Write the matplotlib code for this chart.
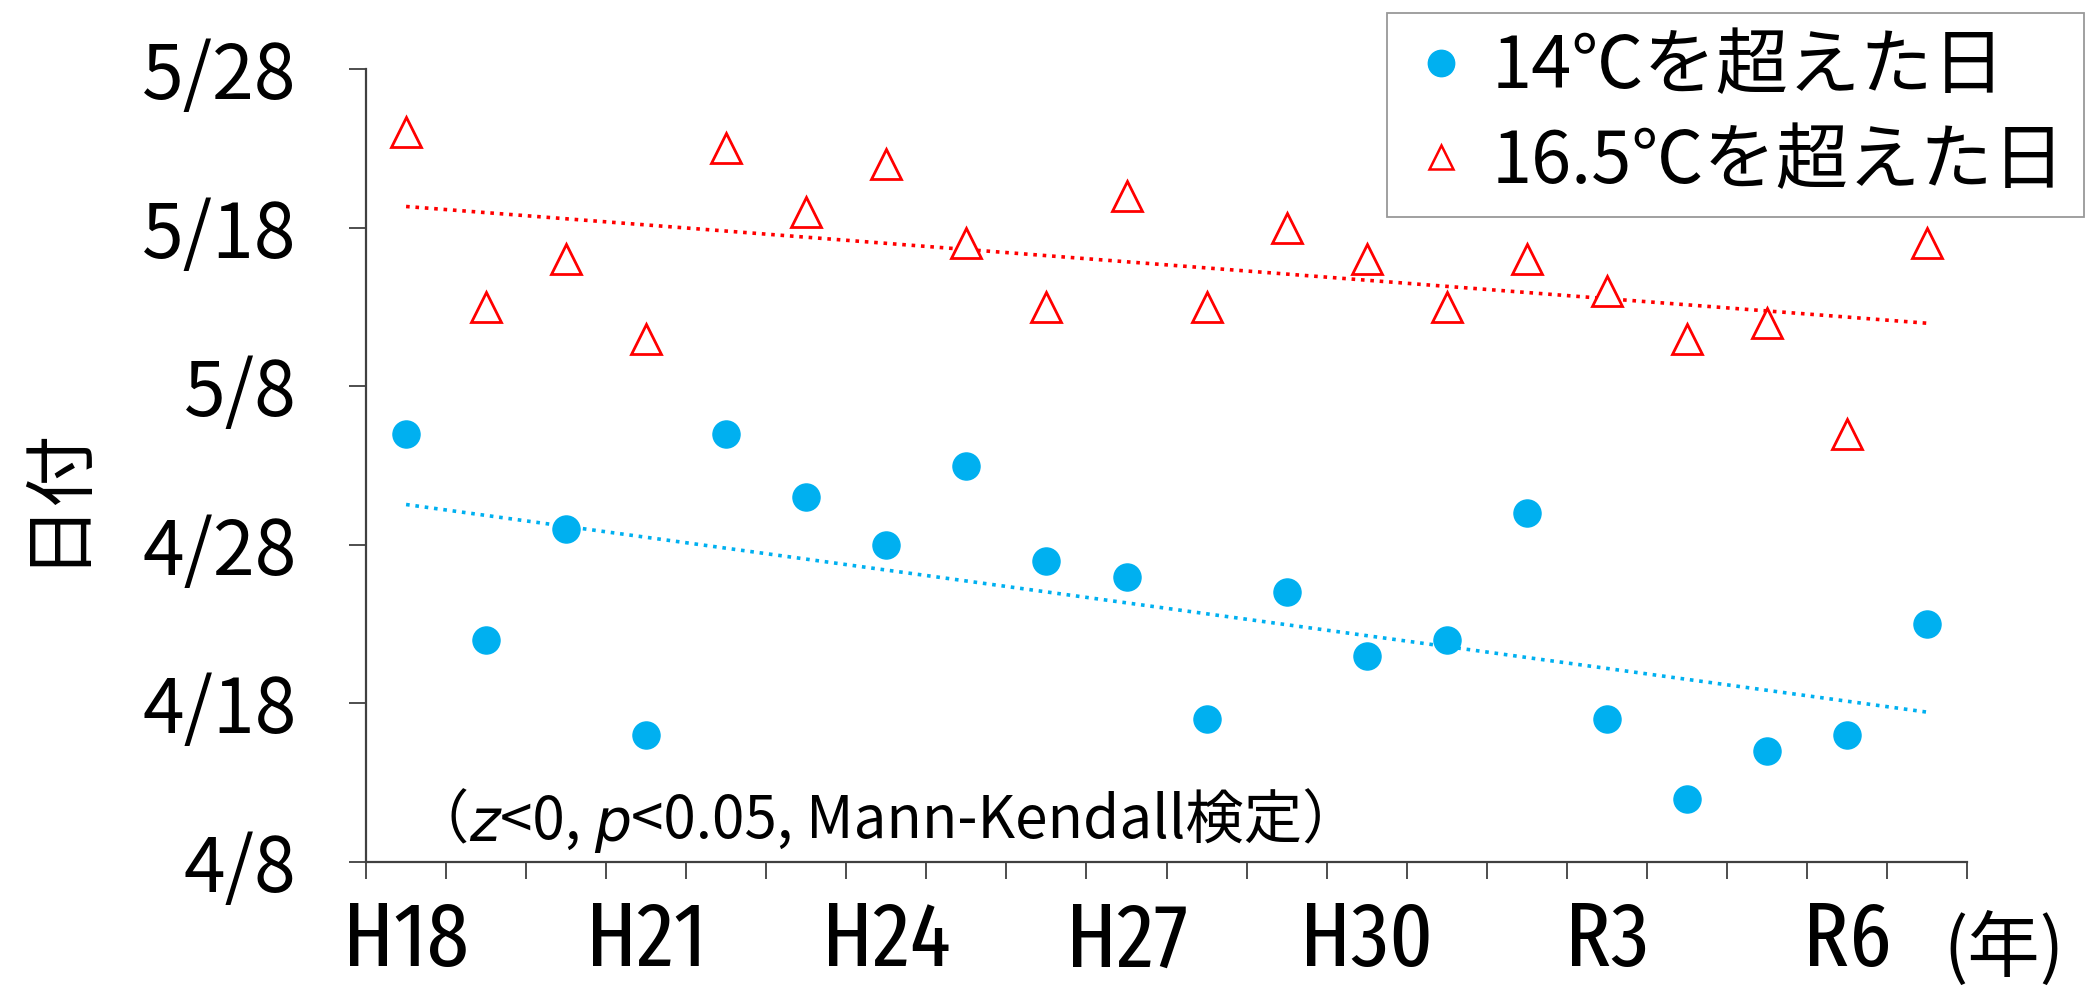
import numpy as np
import pandas as pd
import matplotlib
matplotlib.use("Agg")
import matplotlib.pyplot as plt
from matplotlib.lines import Line2D

plt.rcParams['font.family'] = ['Noto Sans CJK JP', 'DejaVu Sans']

# data (date each year the water temp first exceeded the threshold)
years = ["H18", "H19", "H20", "H21", "H22", "H23", "H24", "H25", "H26", "H27",
         "H28", "H29", "H30", "R1", "R2", "R3", "R4", "R5", "R6", "R7"]
over_14 = ["5/5", "4/22", "4/29", "4/16", "5/5", "5/1", "4/28", "5/3", "4/27", "4/26",
           "4/17", "4/25", "4/21", "4/22", "4/30", "4/17", "4/12", "4/15", "4/16", "4/23"]
over_165 = ["5/24", "5/13", "5/16", "5/11", "5/23", "5/19", "5/22", "5/17", "5/13", "5/20",
            "5/13", "5/18", "5/16", "5/13", "5/16", "5/14", "5/11", "5/12", "5/5", "5/17"]
xtick_labels = ["H18", "H21", "H24", "H27", "H30", "R3", "R6"]
ytick_labels = ["4/8", "4/18", "4/28", "5/8", "5/18", "5/28"]

BLUE = "#00B0F0"
RED = "#FF0000"
AXC = "#404040"
NARROW = ['Fira Sans Extra Condensed', 'Roboto Condensed', 'DejaVu Sans']


def to_day(s):
    """days counted from 4/8"""
    return (pd.to_datetime("2000/" + s) - pd.Timestamp("2000-04-08")).days


x = np.arange(len(years))
y14 = np.array([to_day(s) for s in over_14])
y165 = np.array([to_day(s) for s in over_165])
yticks = [to_day(s) for s in ytick_labels]

fig = plt.figure(figsize=(20.87, 9.99), dpi=100)
ax = fig.add_axes([0.1754, 0.137, 0.7671, 0.794])

# linear trend lines
for yy, c in [(y14, BLUE), (y165, RED)]:
    k, b = np.polyfit(x, yy, 1)
    ax.plot(x, k * x + b, color=c, lw=2.6, linestyle=(0, (1, 1.6)), zorder=2)

ax.plot(x, y14, "o", ms=19.5, color=BLUE, mec=BLUE, zorder=3)
ax.plot(x, y165, "^", ms=21, mfc="white", mec=RED, mew=2.0, zorder=3)

ax.set_xlim(-0.5, len(years) - 0.5)
ax.set_ylim(yticks[0], yticks[-1])

# x axis: labels centred on categories, tick marks between categories
ax.set_xticks([years.index(l) for l in xtick_labels])
ax.set_xticklabels(xtick_labels, fontsize=66, family=NARROW)
ax.set_xticks(np.arange(-0.5, len(years)), minor=True)
ax.tick_params(axis="x", which="major", length=0, pad=26)
ax.tick_params(axis="x", which="minor", length=12, width=1.3, color=AXC, direction="out")

ax.set_yticks(yticks)
ax.set_yticklabels(ytick_labels, fontsize=54)
ax.tick_params(axis="y", length=12, width=1.3, color=AXC, pad=38)

for side in ["top", "right"]:
    ax.spines[side].set_visible(False)
for side in ["left", "bottom"]:
    ax.spines[side].set_color(AXC)
    ax.spines[side].set_linewidth(1.6)

ax.set_ylabel("日付", fontsize=52, va="center")
ax.yaxis.set_label_coords(-0.195, 0.465)

fig.text(0.960, 0.05, "(年)", fontsize=52, ha="center", va="center")

# annotation with italic z and p
t = ax.text(0.028, 0.012, "（", transform=ax.transAxes, fontsize=42, va="bottom")
for s, st in [("z", "italic"), ("<0, ", "normal"), ("p", "italic"),
              ("<0.05, Mann-Kendall検定）", "normal")]:
    fam = ['DejaVu Sans'] if st == "italic" else ['Noto Sans CJK JP', 'DejaVu Sans']
    t = ax.annotate(s, xy=(1, 0), xycoords=t, fontsize=42, va="bottom",
                    style=st, family=fam)

handles = [
    Line2D([], [], marker="o", ls="", ms=19, color=BLUE),
    Line2D([], [], marker="^", ls="", ms=17, mfc="white", mec=RED, mew=1.8),
]
leg = fig.legend(handles, ["14℃を超えた日", "16.5℃を超えた日"],
                 loc="upper left", bbox_to_anchor=(0.6646, 0.987),
                 fontsize=52, frameon=True, fancybox=False, edgecolor="#7f7f7f",
                 handlelength=1.0, handletextpad=0.2, borderpad=0.25,
                 labelspacing=0.3, borderaxespad=0)
leg.get_frame().set_linewidth(1.3)

fig.savefig("out.png", dpi=100)
